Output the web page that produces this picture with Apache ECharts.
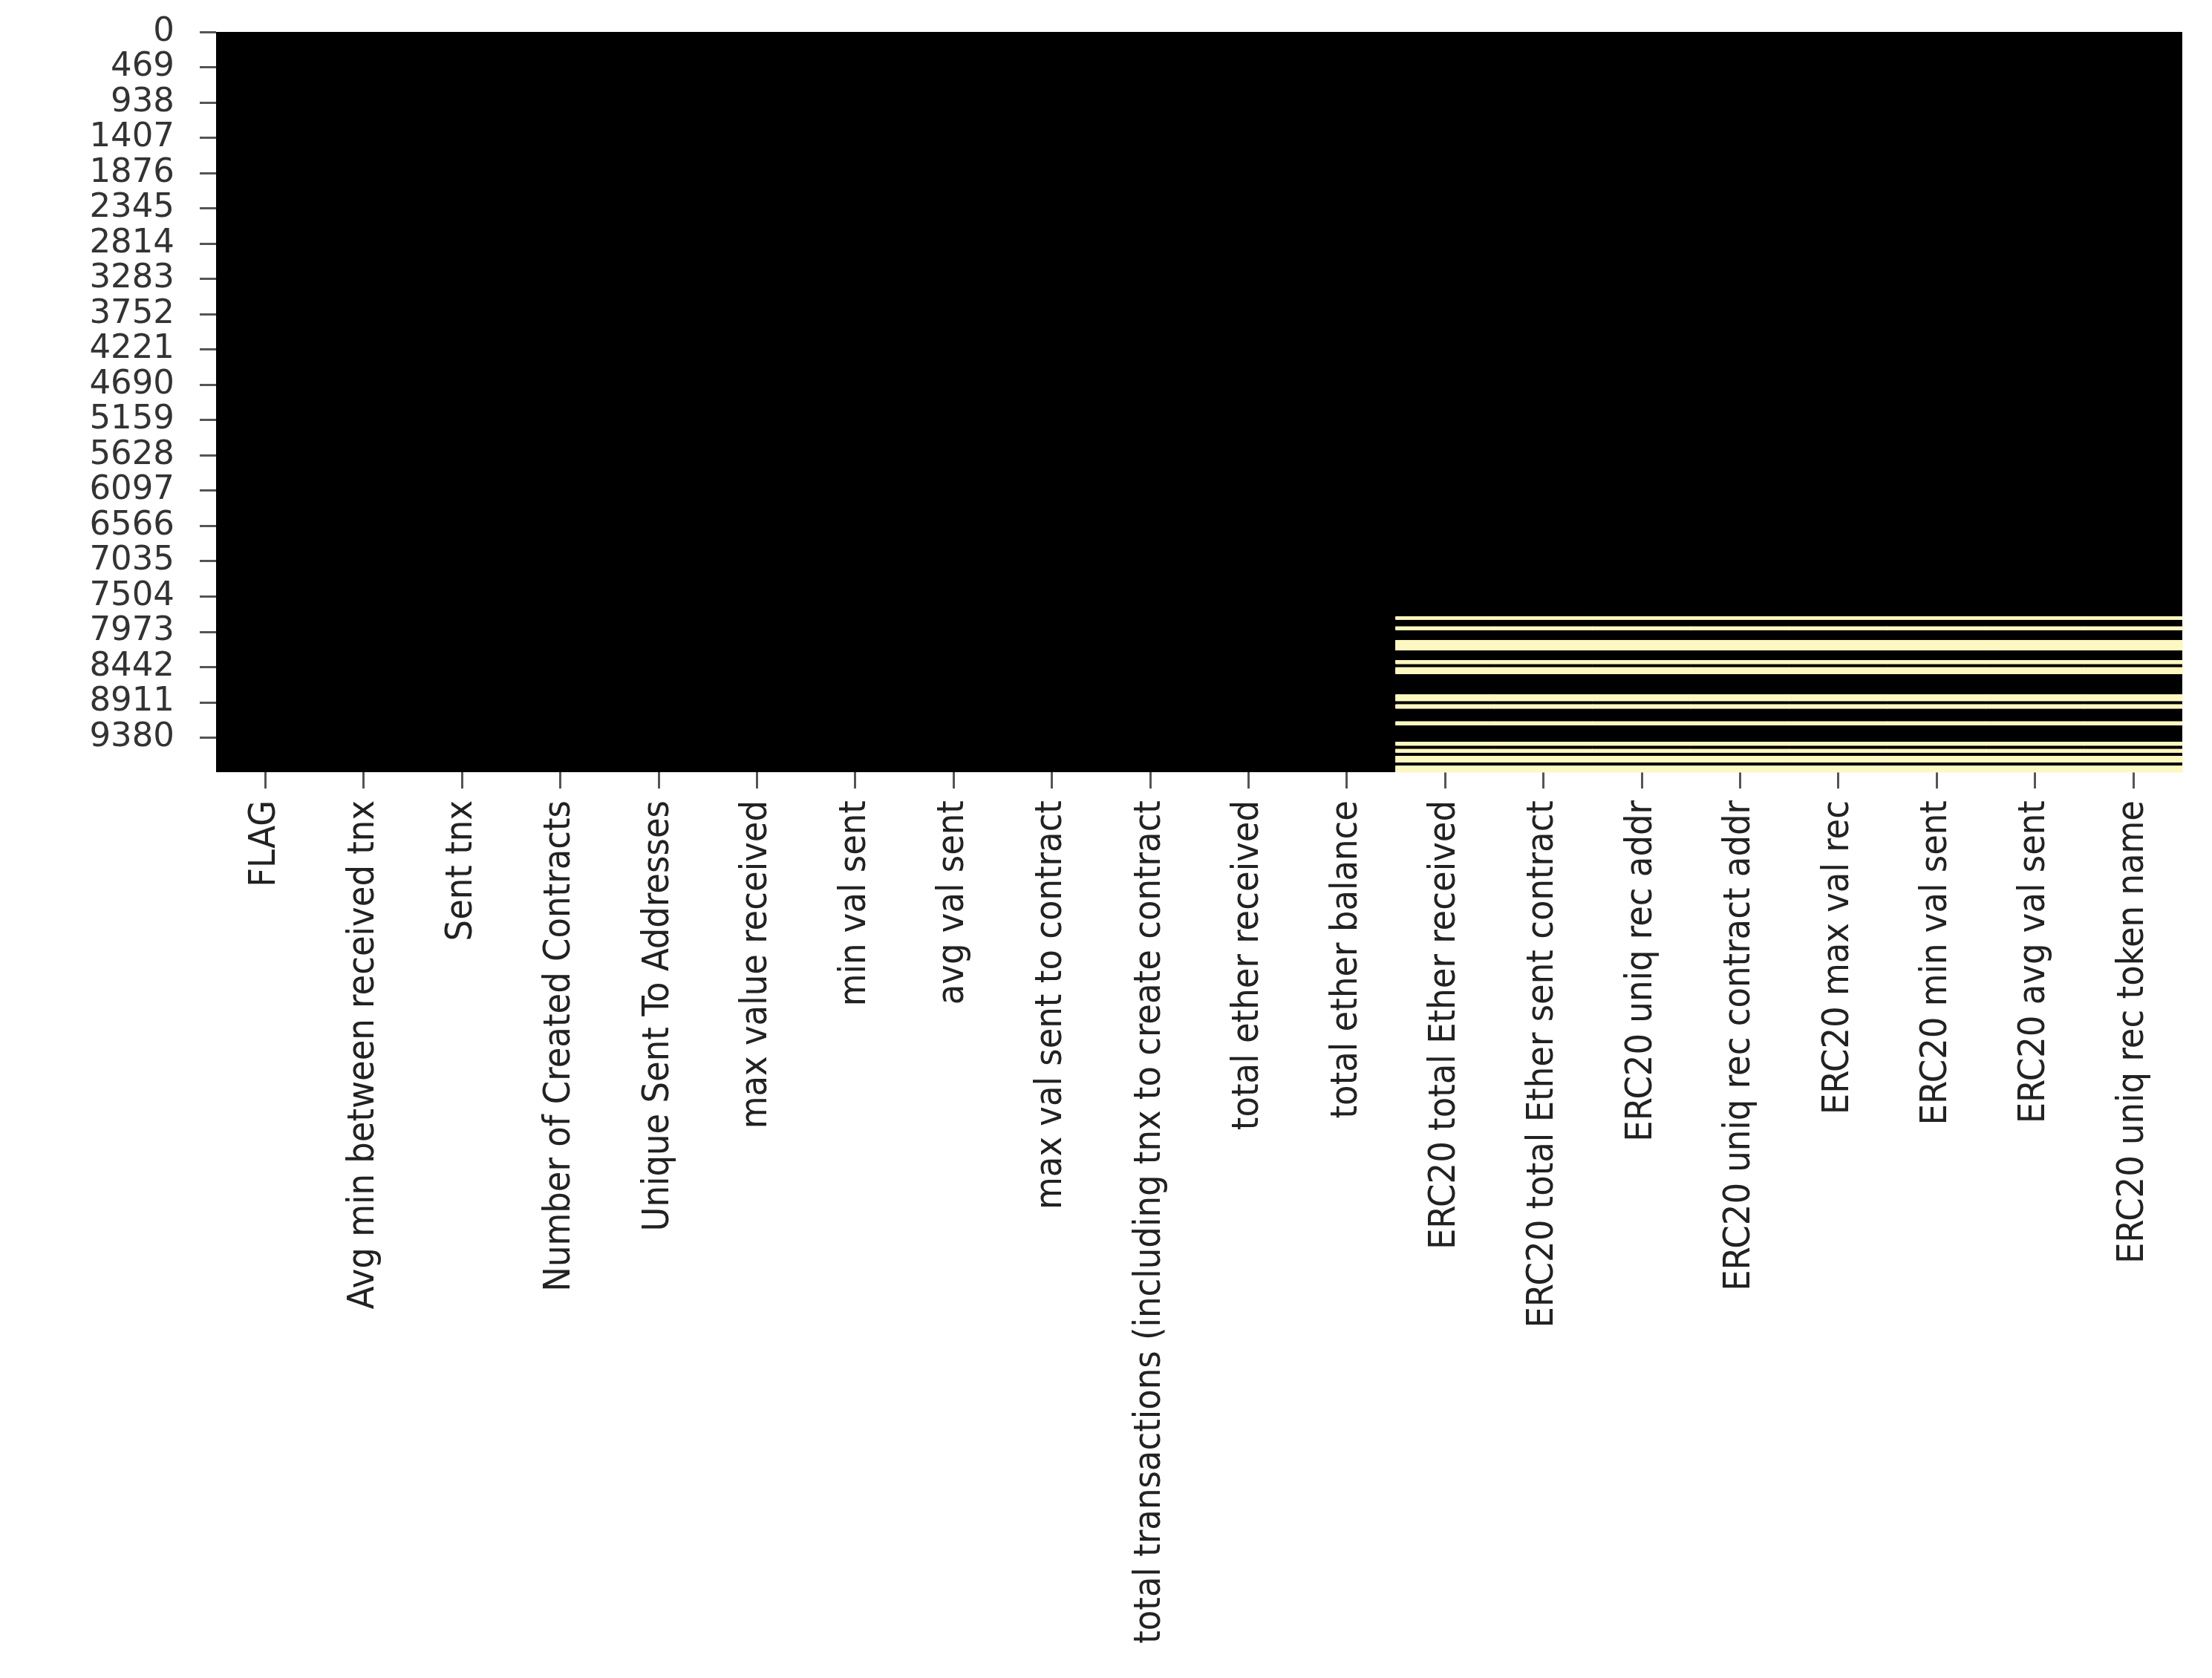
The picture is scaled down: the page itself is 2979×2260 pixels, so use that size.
<!DOCTYPE html>
<html><head><meta charset="utf-8">
<script src="https://cdn.jsdelivr.net/npm/echarts@6/dist/echarts.min.js"></script>
<style>html,body{margin:0;padding:0;background:#fff}#c{width:2979px;height:2260px}</style>
</head><body><div id="c"></div>
<script>
const columns = ["FLAG","Avg min between received tnx","Sent tnx","Number of Created Contracts","Unique Sent To Addresses","max value received ","min val sent","avg val sent","max val sent to contract","total transactions (including tnx to create contract","total ether received","total ether balance"," ERC20 total Ether received"," ERC20 total Ether sent contract"," ERC20 uniq rec addr"," ERC20 uniq rec contract addr"," ERC20 max val rec"," ERC20 min val sent"," ERC20 avg val sent"," ERC20 uniq rec token name"];
const rowCount = 9841;
const tickStep = 469;
const missingCols = [12,13,14,15,16,17,18,19];
const missingStart = [7774,7906,8087,8353,8449,8811,8942,9169,9439,9535,9627,9758];
const missingEnd   = [7810,7948,8219,8400,8531,8893,8992,9215,9485,9577,9709,9840];

const rows = [];
for (let i = 0; i < rowCount; i++) rows.push(String(i));
const data = [];
for (let s = 0; s < missingStart.length; s++)
  for (let r = missingStart[s]; r <= missingEnd[s]; r++)
    for (const c of missingCols) data.push([c, r, 1]);

const chart = echarts.init(document.getElementById('c'));
chart.setOption({
  animation: false,
  grid: {left: 291, top: 43, width: 2648, height: 997, backgroundColor: '#000', show: true, borderWidth: 0},
  xAxis: {type: 'category', data: columns.map(s => s.trim()), position: 'bottom',
    axisLine: {show: false, onZero: false}, splitLine: {show: false},
    axisTick: {show: true, length: 22, lineStyle: {color: '#555', width: 3}, alignWithLabel: true},
    axisLabel: {rotate: 90, interval: 0, margin: 38, fontSize: 50, color: '#222', fontFamily: 'DejaVu Sans Condensed'}},
  yAxis: [
    {type: 'category', data: rows, inverse: true, show: false},
    {type: 'value', min: -0.5, max: rowCount - 0.5, interval: tickStep, inverse: true, position: 'left',
      axisLine: {show: false, onZero: false}, splitLine: {show: false},
      axisTick: {show: true, length: 22, lineStyle: {color: '#555', width: 3}},
      axisLabel: {hideOverlap: false, showMinLabel: true, showMaxLabel: false, margin: 56, fontSize: 45, lineHeight: 30, color: '#333', fontFamily: 'DejaVu Sans',
        formatter: v => String(Math.round(v + 0.5))}}
  ],
  visualMap: {show: false, min: 0, max: 1, inRange: {color: ['#fcf8c0','#fcf8c0']}},
  series: [{type: 'heatmap', data: data, yAxisIndex: 0, progressive: 0, itemStyle: {borderWidth: 0}}]
});
</script></body></html>
